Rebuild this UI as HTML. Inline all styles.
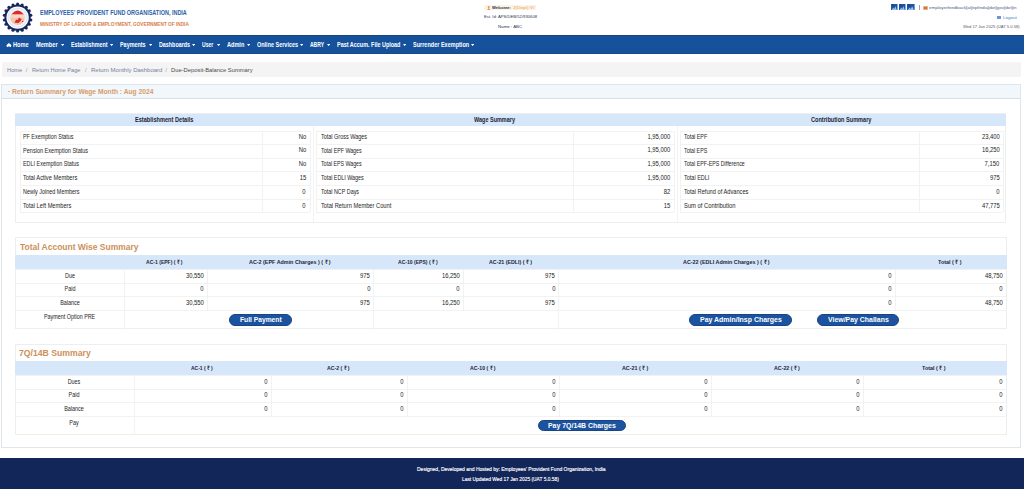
<!DOCTYPE html>
<html><head><meta charset="utf-8">
<style>
*{margin:0;padding:0;box-sizing:border-box}
html,body{width:1024px;height:489px;overflow:hidden;background:#fff;font-family:"Liberation Sans",sans-serif;color:#333}
.a{position:absolute;white-space:nowrap;line-height:1.15}
.s{}
</style></head>
<body>
<svg class="a" style="left:2.1px;top:1.9px" width="31.2" height="31.2" viewBox="0 0 31.2 31.2">
 <circle cx="15.6" cy="15.6" r="13.2" fill="#16275e"/>
 <g fill="#16275e"><circle cx="28.85" cy="17.94" r="1.55"/><circle cx="27.25" cy="22.32" r="1.55"/><circle cx="24.25" cy="25.90" r="1.55"/><circle cx="20.20" cy="28.24" r="1.55"/><circle cx="15.60" cy="29.05" r="1.55"/><circle cx="11.00" cy="28.24" r="1.55"/><circle cx="6.95" cy="25.90" r="1.55"/><circle cx="3.95" cy="22.33" r="1.55"/><circle cx="2.35" cy="17.94" r="1.55"/><circle cx="2.35" cy="13.26" r="1.55"/><circle cx="3.95" cy="8.87" r="1.55"/><circle cx="6.95" cy="5.30" r="1.55"/><circle cx="11.00" cy="2.96" r="1.55"/><circle cx="15.60" cy="2.15" r="1.55"/><circle cx="20.20" cy="2.96" r="1.55"/><circle cx="24.25" cy="5.30" r="1.55"/><circle cx="27.25" cy="8.88" r="1.55"/><circle cx="28.85" cy="13.26" r="1.55"/></g>
 <circle cx="15.6" cy="15.6" r="11.2" fill="#fff"/>
 <circle cx="15.6" cy="15.6" r="10.2" fill="#dce9f7"/>
 <circle cx="15.6" cy="15.6" r="8.6" fill="#f4f8fc"/>
 <circle cx="15.5" cy="15.8" r="7.3" fill="#f3c4ae"/>
 <path d="M8.6 12.6 h13.8 v3.2 h-13.8z" fill="#f6d6c6"/>
 <path d="M9.6 12.2 Q15.7 5 21.8 12.2 Z" fill="#e0262a"/>
 <path d="M12.6 20.8 L14 17.5 L15.8 18 L17 15.3 L18.2 16.5 L19.6 17.2 L18.6 19 L16.5 20.9 Z" fill="#e3262a"/>
 <circle cx="20.6" cy="19.4" r="0.7" fill="#e3262a"/>
</svg>
<div class="a" style="left:40px;top:9.45px;font-size:7.0px;color:#2d5ea8;transform:scaleX(0.780);transform-origin:0 0;font-weight:bold;">EMPLOYEES' PROVIDENT FUND ORGANISATION, INDIA</div>
<div class="a" style="left:40px;top:20.64px;font-size:5.6px;color:#d8804a;transform:scaleX(0.843);transform-origin:0 0;font-weight:bold;">MINISTRY OF LABOUR &amp; EMPLOYMENT, GOVERNMENT OF INDIA</div>
<div class="a" style="left:484.3px;top:5.2px;width:51.6px;height:5.0px;background:#fdf3e4;"></div>
<svg class="a" style="left:486.7px;top:5.6px" width="3.5" height="4.2" viewBox="0 0 4 6"><circle cx="2" cy="1.6" r="1.5" fill="#e39a50"/><path d="M0 6 Q0 3.2 2 3.2 Q4 3.2 4 6z" fill="#e39a50"/></svg>
<div class="a" style="left:491.7px;top:5.53px;font-size:4.2px;color:#2a3550;transform:scaleX(0.962);transform-origin:0 0;font-weight:bold;">Welcome:</div>
<div class="a" style="left:512.8px;top:5.53px;font-size:4.2px;color:#e9a158;transform:scaleX(1.127);transform-origin:0 0;">J(Dept) V/</div>
<div class="a" style="left:484.0px;top:14.84px;font-size:4.3px;color:#2a3550;transform:scaleX(0.974);transform-origin:0 0;">Est. Id: APS/DEB/52/930608</div>
<div class="a" style="left:498.4px;top:24.73px;font-size:4.2px;color:#2a3550;transform:scaleX(1.052);transform-origin:0 0;">Name : ABC</div>
<svg class="a" style="left:891.3px;top:4.1px" width="6.5" height="6.4" viewBox="0 0 10 10" preserveAspectRatio="none"><rect width="10" height="10" fill="#1f56a3"/><path d="M1 10 L3.2 5.5 L5 8 L6.8 3.5 L9.2 10Z" fill="#9fc0ea"/><rect x="1.5" y="1.2" width="2.5" height="2.5" fill="#15427f"/></svg>
<svg class="a" style="left:899.2px;top:4.1px" width="6.5" height="6.4" viewBox="0 0 10 10" preserveAspectRatio="none"><rect width="10" height="10" fill="#1f56a3"/><path d="M1 10 L3.2 5.5 L5 8 L6.8 3.5 L9.2 10Z" fill="#9fc0ea"/><rect x="1.5" y="1.2" width="2.5" height="2.5" fill="#15427f"/></svg>
<svg class="a" style="left:907.2px;top:4.1px" width="7.6" height="6.4" viewBox="0 0 10 10" preserveAspectRatio="none"><rect width="10" height="10" fill="#1f56a3"/><path d="M1 10 L3.2 5.5 L5 8 L6.8 3.5 L9.2 10Z" fill="#9fc0ea"/><rect x="1.5" y="1.2" width="2.5" height="2.5" fill="#15427f"/></svg>
<div class="a" style="left:919.3px;top:4.9px;width:0.7px;height:5px;background:#9aa6b8;"></div>
<div class="a" style="left:922.8px;top:5.8px;width:4.9px;height:4.3px;background:#eab286;"></div>
<div class="a" style="left:923.8px;top:6.6px;width:2.9px;height:2.4px;background:#d9703c;"></div>
<div class="a" style="left:929px;top:4.75px;font-size:4.4px;color:#4d6088;transform:scaleX(1.029);transform-origin:0 0;">employerfeedback[at]epfindia[dot]gov[dot]in</div>
<div class="a" style="left:997.4px;top:16.4px;width:3.4px;height:2.2px;background:#6b98d4;"></div>
<div class="a" style="left:1002.8px;top:14.7px;font-size:4.4px;color:#4a7fc0;transform:scaleX(1.026);transform-origin:0 0;">Logout</div>
<div class="a" style="left:962.8px;top:24.05px;font-size:4.4px;color:#555b66;transform:scaleX(0.940);transform-origin:0 0;">Wed 17 Jan 2025 (UAT 5.0.58)</div>
<div class="a" style="left:0px;top:35px;width:1024px;height:19.2px;background:#15529b;border-top:1px solid #1c4678;border-bottom:1px solid #1b4a82;box-sizing:border-box"></div>
<svg class="a" style="left:6.3px;top:42.6px" width="5.8" height="4.8" viewBox="0 0 6 5"><path d="M3 0 L6 2.6 L5.2 2.6 L5.2 5 L3.6 5 L3.6 3.4 L2.4 3.4 L2.4 5 L0.8 5 L0.8 2.6 L0 2.6Z" fill="#fff"/></svg>
<div class="a" style="left:13.3px;top:41.31px;font-size:6.5px;color:#fff;transform:scaleX(0.864);transform-origin:0 0;font-weight:bold;">Home</div>
<div class="a" style="left:35.9px;top:41.31px;font-size:6.5px;color:#fff;transform:scaleX(0.867);transform-origin:0 0;font-weight:bold;">Member</div>
<svg class="a" style="left:61.0px;top:43.7px" width="3.2" height="2.2" viewBox="0 0 3.2 2.2"><path d="M0 0 H3.2 L1.6 2.2Z" fill="#f4f7fb"/></svg>
<div class="a" style="left:70.8px;top:41.31px;font-size:6.5px;color:#fff;transform:scaleX(0.822);transform-origin:0 0;font-weight:bold;">Establishment</div>
<svg class="a" style="left:110.10000000000001px;top:43.7px" width="3.2" height="2.2" viewBox="0 0 3.2 2.2"><path d="M0 0 H3.2 L1.6 2.2Z" fill="#f4f7fb"/></svg>
<div class="a" style="left:120.3px;top:41.31px;font-size:6.5px;color:#fff;transform:scaleX(0.834);transform-origin:0 0;font-weight:bold;">Payments</div>
<svg class="a" style="left:149.1px;top:43.7px" width="3.2" height="2.2" viewBox="0 0 3.2 2.2"><path d="M0 0 H3.2 L1.6 2.2Z" fill="#f4f7fb"/></svg>
<div class="a" style="left:158.8px;top:41.31px;font-size:6.5px;color:#fff;transform:scaleX(0.825);transform-origin:0 0;font-weight:bold;">Dashboards</div>
<svg class="a" style="left:192.3px;top:43.7px" width="3.2" height="2.2" viewBox="0 0 3.2 2.2"><path d="M0 0 H3.2 L1.6 2.2Z" fill="#f4f7fb"/></svg>
<div class="a" style="left:202px;top:41.31px;font-size:6.5px;color:#fff;transform:scaleX(0.782);transform-origin:0 0;font-weight:bold;">User</div>
<svg class="a" style="left:216.8px;top:43.7px" width="3.2" height="2.2" viewBox="0 0 3.2 2.2"><path d="M0 0 H3.2 L1.6 2.2Z" fill="#f4f7fb"/></svg>
<div class="a" style="left:227.2px;top:41.31px;font-size:6.5px;color:#fff;transform:scaleX(0.856);transform-origin:0 0;font-weight:bold;">Admin</div>
<svg class="a" style="left:247.3px;top:43.7px" width="3.2" height="2.2" viewBox="0 0 3.2 2.2"><path d="M0 0 H3.2 L1.6 2.2Z" fill="#f4f7fb"/></svg>
<div class="a" style="left:256.6px;top:41.31px;font-size:6.5px;color:#fff;transform:scaleX(0.841);transform-origin:0 0;font-weight:bold;">Online Services</div>
<svg class="a" style="left:300.0px;top:43.7px" width="3.2" height="2.2" viewBox="0 0 3.2 2.2"><path d="M0 0 H3.2 L1.6 2.2Z" fill="#f4f7fb"/></svg>
<div class="a" style="left:310px;top:41.31px;font-size:6.5px;color:#fff;transform:scaleX(0.770);transform-origin:0 0;font-weight:bold;">ABRY</div>
<svg class="a" style="left:326.79999999999995px;top:43.7px" width="3.2" height="2.2" viewBox="0 0 3.2 2.2"><path d="M0 0 H3.2 L1.6 2.2Z" fill="#f4f7fb"/></svg>
<div class="a" style="left:336.6px;top:41.31px;font-size:6.5px;color:#fff;transform:scaleX(0.839);transform-origin:0 0;font-weight:bold;">Past Accum. File Upload</div>
<svg class="a" style="left:403.09999999999997px;top:43.7px" width="3.2" height="2.2" viewBox="0 0 3.2 2.2"><path d="M0 0 H3.2 L1.6 2.2Z" fill="#f4f7fb"/></svg>
<div class="a" style="left:412.8px;top:41.31px;font-size:6.5px;color:#fff;transform:scaleX(0.849);transform-origin:0 0;font-weight:bold;">Surrender Exemption</div>
<svg class="a" style="left:471.2px;top:43.7px" width="3.2" height="2.2" viewBox="0 0 3.2 2.2"><path d="M0 0 H3.2 L1.6 2.2Z" fill="#f4f7fb"/></svg>
<div class="a" style="left:1.5px;top:62.2px;width:1019px;height:14.8px;background:#f4f4f5;"></div>
<div class="a" style="left:7.1px;top:66.73px;font-size:5.5px;color:#74829a;transform:scaleX(1.043);transform-origin:0 0;">Home</div>
<div class="a" style="font-size:5.5px;top:66.73px;color:#9a9a9a;left:25.7px;transform-origin:0 0;">/</div>
<div class="a" style="left:32.1px;top:66.73px;font-size:5.5px;color:#74829a;transform:scaleX(1.030);transform-origin:0 0;">Return Home Page</div>
<div class="a" style="font-size:5.5px;top:66.73px;color:#9a9a9a;left:84.9px;transform-origin:0 0;">/</div>
<div class="a" style="left:90.6px;top:66.73px;font-size:5.5px;color:#74829a;transform:scaleX(1.086);transform-origin:0 0;">Return Monthly Dashboard</div>
<div class="a" style="font-size:5.5px;top:66.73px;color:#9a9a9a;left:165.5px;transform-origin:0 0;">/</div>
<div class="a" style="left:171.3px;top:66.73px;font-size:5.5px;color:#4a4a4a;transform:scaleX(1.056);transform-origin:0 0;">Due-Deposit-Balance Summary</div>
<div class="a" style="left:1.3px;top:84.3px;width:1019.4px;height:364px;background:#fff;border:1px solid #dfe5ec;box-sizing:border-box"></div>
<div class="a" style="left:2.3px;top:85.3px;width:1017.4px;height:13.6px;background:#f2f7fc;border-bottom:1px solid #d6dee8;box-sizing:border-box"></div>
<div class="a" style="left:7.9px;top:91.0px;width:1.8px;height:0.9px;background:#e6b48a;"></div>
<div class="a" style="left:11.7px;top:87.75px;font-size:7.0px;color:#d89c68;transform:scaleX(0.955);transform-origin:0 0;font-weight:bold;">Return Summary for Wage Month : Aug 2024</div>
<div class="a" style="left:15.2px;top:113.4px;width:991.2px;height:109.6px;background:#fff;border:1px solid #eeeeee;box-sizing:border-box"></div>
<div class="a" style="left:15.2px;top:113.6px;width:991.2px;height:12.2px;background:#d5e7f8;"></div>
<div class="a" style="left:312.6px;top:125.8px;width:1px;height:96.7px;background:#f3f3f3;"></div>
<div class="a" style="left:676.9px;top:125.8px;width:1px;height:96.7px;background:#f3f3f3;"></div>
<div class="a" style="left:19.5px;top:130.6px;width:290.3px;height:1px;background:#f2f2f2;"></div>
<div class="a" style="left:19.5px;top:144.4px;width:290.3px;height:1px;background:#f2f2f2;"></div>
<div class="a" style="left:19.5px;top:157.7px;width:290.3px;height:1px;background:#f2f2f2;"></div>
<div class="a" style="left:19.5px;top:171.1px;width:290.3px;height:1px;background:#f2f2f2;"></div>
<div class="a" style="left:19.5px;top:184.9px;width:290.3px;height:1px;background:#f2f2f2;"></div>
<div class="a" style="left:19.5px;top:198.7px;width:290.3px;height:1px;background:#f2f2f2;"></div>
<div class="a" style="left:19.5px;top:212.1px;width:290.3px;height:1px;background:#f2f2f2;"></div>
<div class="a" style="left:19.5px;top:130.6px;width:1px;height:81.5px;background:#f2f2f2;"></div>
<div class="a" style="left:262px;top:130.6px;width:1px;height:81.5px;background:#f2f2f2;"></div>
<div class="a" style="left:309.8px;top:130.6px;width:1px;height:81.5px;background:#f2f2f2;"></div>
<div class="a s" style="left:23.2px;top:132.8px;font-size:6.4px;color:#1e1e1e;transform:scaleX(0.842);transform-origin:0 0;">PF Exemption Status</div>
<div class="a s" style="font-size:6.5px;top:132.71px;color:#1e1e1e;right:717.9px;transform-origin:100% 0;transform:scaleX(0.905);">No</div>
<div class="a s" style="left:23.2px;top:146.58px;font-size:6.4px;color:#1e1e1e;transform:scaleX(0.869);transform-origin:0 0;">Pension Exemption Status</div>
<div class="a s" style="font-size:6.5px;top:146.49px;color:#1e1e1e;right:717.9px;transform-origin:100% 0;transform:scaleX(0.905);">No</div>
<div class="a s" style="left:23.2px;top:160.36px;font-size:6.4px;color:#1e1e1e;transform:scaleX(0.848);transform-origin:0 0;">EDLI Exemption Status</div>
<div class="a s" style="font-size:6.5px;top:160.27px;color:#1e1e1e;right:717.9px;transform-origin:100% 0;transform:scaleX(0.905);">No</div>
<div class="a s" style="left:23.2px;top:174.14px;font-size:6.4px;color:#1e1e1e;transform:scaleX(0.894);transform-origin:0 0;">Total Active Members</div>
<div class="a s" style="font-size:6.5px;top:174.05px;color:#1e1e1e;right:717.9px;transform-origin:100% 0;transform:scaleX(0.905);">15</div>
<div class="a s" style="left:23.2px;top:187.92px;font-size:6.4px;color:#1e1e1e;transform:scaleX(0.851);transform-origin:0 0;">Newly Joined Members</div>
<div class="a s" style="font-size:6.5px;top:187.83px;color:#1e1e1e;right:717.9px;transform-origin:100% 0;transform:scaleX(0.905);">0</div>
<div class="a s" style="left:23.2px;top:201.7px;font-size:6.4px;color:#1e1e1e;transform:scaleX(0.889);transform-origin:0 0;">Total Left Members</div>
<div class="a s" style="font-size:6.5px;top:201.61px;color:#1e1e1e;right:717.9px;transform-origin:100% 0;transform:scaleX(0.905);">0</div>
<div class="a" style="left:316px;top:130.6px;width:357.5px;height:1px;background:#f2f2f2;"></div>
<div class="a" style="left:316px;top:144.4px;width:357.5px;height:1px;background:#f2f2f2;"></div>
<div class="a" style="left:316px;top:157.7px;width:357.5px;height:1px;background:#f2f2f2;"></div>
<div class="a" style="left:316px;top:171.1px;width:357.5px;height:1px;background:#f2f2f2;"></div>
<div class="a" style="left:316px;top:184.9px;width:357.5px;height:1px;background:#f2f2f2;"></div>
<div class="a" style="left:316px;top:198.7px;width:357.5px;height:1px;background:#f2f2f2;"></div>
<div class="a" style="left:316px;top:212.1px;width:357.5px;height:1px;background:#f2f2f2;"></div>
<div class="a" style="left:316px;top:130.6px;width:1px;height:81.5px;background:#f2f2f2;"></div>
<div class="a" style="left:573.3px;top:130.6px;width:1px;height:81.5px;background:#f2f2f2;"></div>
<div class="a" style="left:673.5px;top:130.6px;width:1px;height:81.5px;background:#f2f2f2;"></div>
<div class="a s" style="left:320.8px;top:132.8px;font-size:6.4px;color:#1e1e1e;transform:scaleX(0.858);transform-origin:0 0;">Total Gross Wages</div>
<div class="a s" style="font-size:6.5px;top:132.71px;color:#1e1e1e;right:354.2px;transform-origin:100% 0;transform:scaleX(0.905);">1,95,000</div>
<div class="a s" style="left:320.8px;top:146.58px;font-size:6.4px;color:#1e1e1e;transform:scaleX(0.827);transform-origin:0 0;">Total EPF Wages</div>
<div class="a s" style="font-size:6.5px;top:146.49px;color:#1e1e1e;right:354.2px;transform-origin:100% 0;transform:scaleX(0.905);">1,95,000</div>
<div class="a s" style="left:320.8px;top:160.36px;font-size:6.4px;color:#1e1e1e;transform:scaleX(0.821);transform-origin:0 0;">Total EPS Wages</div>
<div class="a s" style="font-size:6.5px;top:160.27px;color:#1e1e1e;right:354.2px;transform-origin:100% 0;transform:scaleX(0.905);">1,95,000</div>
<div class="a s" style="left:320.8px;top:174.14px;font-size:6.4px;color:#1e1e1e;transform:scaleX(0.839);transform-origin:0 0;">Total EDLI Wages</div>
<div class="a s" style="font-size:6.5px;top:174.05px;color:#1e1e1e;right:354.2px;transform-origin:100% 0;transform:scaleX(0.905);">1,95,000</div>
<div class="a s" style="left:320.8px;top:187.92px;font-size:6.4px;color:#1e1e1e;transform:scaleX(0.846);transform-origin:0 0;">Total NCP Days</div>
<div class="a s" style="font-size:6.5px;top:187.83px;color:#1e1e1e;right:354.2px;transform-origin:100% 0;transform:scaleX(0.905);">82</div>
<div class="a s" style="left:320.8px;top:201.7px;font-size:6.4px;color:#1e1e1e;transform:scaleX(0.896);transform-origin:0 0;">Total Return Member Count</div>
<div class="a s" style="font-size:6.5px;top:201.61px;color:#1e1e1e;right:354.2px;transform-origin:100% 0;transform:scaleX(0.905);">15</div>
<div class="a" style="left:679.6px;top:130.6px;width:323.6px;height:1px;background:#f2f2f2;"></div>
<div class="a" style="left:679.6px;top:144.4px;width:323.6px;height:1px;background:#f2f2f2;"></div>
<div class="a" style="left:679.6px;top:157.7px;width:323.6px;height:1px;background:#f2f2f2;"></div>
<div class="a" style="left:679.6px;top:171.1px;width:323.6px;height:1px;background:#f2f2f2;"></div>
<div class="a" style="left:679.6px;top:184.9px;width:323.6px;height:1px;background:#f2f2f2;"></div>
<div class="a" style="left:679.6px;top:198.7px;width:323.6px;height:1px;background:#f2f2f2;"></div>
<div class="a" style="left:679.6px;top:212.1px;width:323.6px;height:1px;background:#f2f2f2;"></div>
<div class="a" style="left:679.6px;top:130.6px;width:1px;height:81.5px;background:#f2f2f2;"></div>
<div class="a" style="left:919.4px;top:130.6px;width:1px;height:81.5px;background:#f2f2f2;"></div>
<div class="a" style="left:1003.2px;top:130.6px;width:1px;height:81.5px;background:#f2f2f2;"></div>
<div class="a s" style="left:683.8px;top:132.8px;font-size:6.4px;color:#1e1e1e;transform:scaleX(0.836);transform-origin:0 0;">Total EPF</div>
<div class="a s" style="font-size:6.5px;top:132.71px;color:#1e1e1e;right:24.5px;transform-origin:100% 0;transform:scaleX(0.905);">23,400</div>
<div class="a s" style="left:683.8px;top:146.58px;font-size:6.4px;color:#1e1e1e;transform:scaleX(0.826);transform-origin:0 0;">Total EPS</div>
<div class="a s" style="font-size:6.5px;top:146.49px;color:#1e1e1e;right:24.5px;transform-origin:100% 0;transform:scaleX(0.905);">16,250</div>
<div class="a s" style="left:683.8px;top:160.36px;font-size:6.4px;color:#1e1e1e;transform:scaleX(0.828);transform-origin:0 0;">Total EPF-EPS Difference</div>
<div class="a s" style="font-size:6.5px;top:160.27px;color:#1e1e1e;right:24.5px;transform-origin:100% 0;transform:scaleX(0.905);">7,150</div>
<div class="a s" style="left:683.8px;top:174.14px;font-size:6.4px;color:#1e1e1e;transform:scaleX(0.860);transform-origin:0 0;">Total EDLI</div>
<div class="a s" style="font-size:6.5px;top:174.05px;color:#1e1e1e;right:24.5px;transform-origin:100% 0;transform:scaleX(0.905);">975</div>
<div class="a s" style="left:683.8px;top:187.92px;font-size:6.4px;color:#1e1e1e;transform:scaleX(0.889);transform-origin:0 0;">Total Refund of Advances</div>
<div class="a s" style="font-size:6.5px;top:187.83px;color:#1e1e1e;right:24.5px;transform-origin:100% 0;transform:scaleX(0.905);">0</div>
<div class="a s" style="left:683.8px;top:201.7px;font-size:6.4px;color:#1e1e1e;transform:scaleX(0.911);transform-origin:0 0;">Sum of Contribution</div>
<div class="a s" style="font-size:6.5px;top:201.61px;color:#1e1e1e;right:24.5px;transform-origin:100% 0;transform:scaleX(0.905);">47,775</div>
<div class="a" style="left:134.6px;top:115.69px;font-size:6.3px;color:#1d2538;transform:scaleX(0.892);transform-origin:0 0;font-weight:bold;">Establishment Details</div>
<div class="a" style="left:473.7px;top:115.69px;font-size:6.3px;color:#1d2538;transform:scaleX(0.872);transform-origin:0 0;font-weight:bold;">Wage Summary</div>
<div class="a" style="left:811px;top:115.69px;font-size:6.3px;color:#1d2538;transform:scaleX(0.886);transform-origin:0 0;font-weight:bold;">Contribution Summary</div>
<div class="a" style="left:15.2px;top:237.4px;width:991.4px;height:91.6px;background:#fff;border:1px solid #eeeeee;box-sizing:border-box"></div>
<div class="a" style="left:19.5px;top:242.31px;font-size:9.0px;color:#cc8f5a;transform:scaleX(0.940);transform-origin:0 0;font-weight:bold;">Total Account Wise Summary</div>
<div class="a" style="left:15.4px;top:255.3px;width:991.2px;height:14px;background:#d5e7f8;"></div>
<div class="a" style="left:146.4px;top:258.86px;font-size:5.9px;color:#1d2538;transform:scaleX(0.858);transform-origin:0 0;font-weight:bold;">AC-1 (EPF) ( &#8377; )</div>
<div class="a" style="left:249px;top:258.86px;font-size:5.9px;color:#1d2538;transform:scaleX(0.915);transform-origin:0 0;font-weight:bold;">AC-2 (EPF Admin Charges ) ( &#8377; )</div>
<div class="a" style="left:398.4px;top:258.86px;font-size:5.9px;color:#1d2538;transform:scaleX(0.860);transform-origin:0 0;font-weight:bold;">AC-10 (EPS) ( &#8377; )</div>
<div class="a" style="left:489px;top:258.86px;font-size:5.9px;color:#1d2538;transform:scaleX(0.898);transform-origin:0 0;font-weight:bold;">AC-21 (EDLI) ( &#8377; )</div>
<div class="a" style="left:683px;top:258.86px;font-size:5.9px;color:#1d2538;transform:scaleX(0.917);transform-origin:0 0;font-weight:bold;">AC-22 (EDLI Admin Charges ) ( &#8377; )</div>
<div class="a" style="left:938.4px;top:258.86px;font-size:5.9px;color:#1d2538;transform:scaleX(0.921);transform-origin:0 0;font-weight:bold;">Total ( &#8377; )</div>
<div class="a" style="left:15.4px;top:269.3px;width:991.2px;height:1px;background:#f2f2f2;"></div>
<div class="a" style="left:15.4px;top:282.6px;width:991.2px;height:1px;background:#f2f2f2;"></div>
<div class="a" style="left:15.4px;top:296.1px;width:991.2px;height:1px;background:#f2f2f2;"></div>
<div class="a" style="left:15.4px;top:310.0px;width:991.2px;height:1px;background:#f2f2f2;"></div>
<div class="a" style="left:123.6px;top:269.3px;width:1px;height:59.5px;background:#f2f2f2;"></div>
<div class="a" style="left:207.3px;top:269.3px;width:1px;height:40.7px;background:#f2f2f2;"></div>
<div class="a" style="left:373.4px;top:269.3px;width:1px;height:59.5px;background:#f2f2f2;"></div>
<div class="a" style="left:463.3px;top:269.3px;width:1px;height:40.7px;background:#f2f2f2;"></div>
<div class="a" style="left:558.3px;top:269.3px;width:1px;height:59.5px;background:#f2f2f2;"></div>
<div class="a" style="left:894.6px;top:269.3px;width:1px;height:40.7px;background:#f2f2f2;"></div>
<div class="a s" style="font-size:6.4px;top:272.0px;color:#1e1e1e;left:-80.5px;width:300px;text-align:center;transform-origin:50% 0;transform:scaleX(0.85);">Due</div>
<div class="a s" style="font-size:6.5px;top:271.91px;color:#1e1e1e;right:820.1px;transform-origin:100% 0;transform:scaleX(0.905);">30,550</div>
<div class="a s" style="font-size:6.5px;top:271.91px;color:#1e1e1e;right:653.8px;transform-origin:100% 0;transform:scaleX(0.905);">975</div>
<div class="a s" style="font-size:6.5px;top:271.91px;color:#1e1e1e;right:563.9px;transform-origin:100% 0;transform:scaleX(0.905);">16,250</div>
<div class="a s" style="font-size:6.5px;top:271.91px;color:#1e1e1e;right:468.8px;transform-origin:100% 0;transform:scaleX(0.905);">975</div>
<div class="a s" style="font-size:6.5px;top:271.91px;color:#1e1e1e;right:132.1px;transform-origin:100% 0;transform:scaleX(0.905);">0</div>
<div class="a s" style="font-size:6.5px;top:271.91px;color:#1e1e1e;right:21.1px;transform-origin:100% 0;transform:scaleX(0.905);">48,750</div>
<div class="a s" style="font-size:6.4px;top:285.3px;color:#1e1e1e;left:-80.5px;width:300px;text-align:center;transform-origin:50% 0;transform:scaleX(0.85);">Paid</div>
<div class="a s" style="font-size:6.5px;top:285.21px;color:#1e1e1e;right:820.1px;transform-origin:100% 0;transform:scaleX(0.905);">0</div>
<div class="a s" style="font-size:6.5px;top:285.21px;color:#1e1e1e;right:653.8px;transform-origin:100% 0;transform:scaleX(0.905);">0</div>
<div class="a s" style="font-size:6.5px;top:285.21px;color:#1e1e1e;right:563.9px;transform-origin:100% 0;transform:scaleX(0.905);">0</div>
<div class="a s" style="font-size:6.5px;top:285.21px;color:#1e1e1e;right:468.8px;transform-origin:100% 0;transform:scaleX(0.905);">0</div>
<div class="a s" style="font-size:6.5px;top:285.21px;color:#1e1e1e;right:132.1px;transform-origin:100% 0;transform:scaleX(0.905);">0</div>
<div class="a s" style="font-size:6.5px;top:285.21px;color:#1e1e1e;right:21.1px;transform-origin:100% 0;transform:scaleX(0.905);">0</div>
<div class="a s" style="font-size:6.4px;top:298.8px;color:#1e1e1e;left:-80.5px;width:300px;text-align:center;transform-origin:50% 0;transform:scaleX(0.85);">Balance</div>
<div class="a s" style="font-size:6.5px;top:298.71px;color:#1e1e1e;right:820.1px;transform-origin:100% 0;transform:scaleX(0.905);">30,550</div>
<div class="a s" style="font-size:6.5px;top:298.71px;color:#1e1e1e;right:653.8px;transform-origin:100% 0;transform:scaleX(0.905);">975</div>
<div class="a s" style="font-size:6.5px;top:298.71px;color:#1e1e1e;right:563.9px;transform-origin:100% 0;transform:scaleX(0.905);">16,250</div>
<div class="a s" style="font-size:6.5px;top:298.71px;color:#1e1e1e;right:468.8px;transform-origin:100% 0;transform:scaleX(0.905);">975</div>
<div class="a s" style="font-size:6.5px;top:298.71px;color:#1e1e1e;right:132.1px;transform-origin:100% 0;transform:scaleX(0.905);">0</div>
<div class="a s" style="font-size:6.5px;top:298.71px;color:#1e1e1e;right:21.1px;transform-origin:100% 0;transform:scaleX(0.905);">48,750</div>
<div class="a s" style="left:43.9px;top:312.85px;font-size:6.4px;color:#1e1e1e;transform:scaleX(0.843);transform-origin:0 0;">Payment Option PRE</div>
<div class="a" style="left:14.7px;top:344.1px;width:991.9px;height:91.3px;background:#fff;border:1px solid #eeeeee;box-sizing:border-box"></div>
<div class="a" style="left:19.0px;top:348.01px;font-size:9.0px;color:#cc8f5a;transform:scaleX(0.962);transform-origin:0 0;font-weight:bold;">7Q/14B Summary</div>
<div class="a" style="left:14.9px;top:361.2px;width:991.7px;height:14.1px;background:#d5e7f8;"></div>
<div class="a" style="left:190.5px;top:364.86px;font-size:5.9px;color:#1d2538;transform:scaleX(0.847);transform-origin:0 0;font-weight:bold;">AC-1 ( &#8377; )</div>
<div class="a" style="left:326.7px;top:364.86px;font-size:5.9px;color:#1d2538;transform:scaleX(0.880);transform-origin:0 0;font-weight:bold;">AC-2 ( &#8377; )</div>
<div class="a" style="left:470px;top:364.86px;font-size:5.9px;color:#1d2538;transform:scaleX(0.884);transform-origin:0 0;font-weight:bold;">AC-10 ( &#8377; )</div>
<div class="a" style="left:622px;top:364.86px;font-size:5.9px;color:#1d2538;transform:scaleX(0.907);transform-origin:0 0;font-weight:bold;">AC-21 ( &#8377; )</div>
<div class="a" style="left:773.8px;top:364.86px;font-size:5.9px;color:#1d2538;transform:scaleX(0.897);transform-origin:0 0;font-weight:bold;">AC-22 ( &#8377; )</div>
<div class="a" style="left:922.4px;top:364.86px;font-size:5.9px;color:#1d2538;transform:scaleX(0.921);transform-origin:0 0;font-weight:bold;">Total ( &#8377; )</div>
<div class="a" style="left:14.7px;top:375.4px;width:991.9px;height:1px;background:#f2f2f2;"></div>
<div class="a" style="left:14.7px;top:388.5px;width:991.9px;height:1px;background:#f2f2f2;"></div>
<div class="a" style="left:14.7px;top:402.3px;width:991.9px;height:1px;background:#f2f2f2;"></div>
<div class="a" style="left:14.7px;top:416.3px;width:991.9px;height:1px;background:#f2f2f2;"></div>
<div class="a" style="left:133.9px;top:375.4px;width:1px;height:60.0px;background:#f2f2f2;"></div>
<div class="a" style="left:271.0px;top:375.4px;width:1px;height:40.9px;background:#f2f2f2;"></div>
<div class="a" style="left:406.9px;top:375.4px;width:1px;height:40.9px;background:#f2f2f2;"></div>
<div class="a" style="left:559px;top:375.4px;width:1px;height:40.9px;background:#f2f2f2;"></div>
<div class="a" style="left:710.8px;top:375.4px;width:1px;height:40.9px;background:#f2f2f2;"></div>
<div class="a" style="left:863.3px;top:375.4px;width:1px;height:40.9px;background:#f2f2f2;"></div>
<div class="a s" style="font-size:6.4px;top:378.0px;color:#1e1e1e;left:-75.7px;width:300px;text-align:center;transform-origin:50% 0;transform:scaleX(0.85);">Dues</div>
<div class="a s" style="font-size:6.5px;top:377.91px;color:#1e1e1e;right:756.3px;transform-origin:100% 0;transform:scaleX(0.905);">0</div>
<div class="a s" style="font-size:6.5px;top:377.91px;color:#1e1e1e;right:620.4px;transform-origin:100% 0;transform:scaleX(0.905);">0</div>
<div class="a s" style="font-size:6.5px;top:377.91px;color:#1e1e1e;right:468.3px;transform-origin:100% 0;transform:scaleX(0.905);">0</div>
<div class="a s" style="font-size:6.5px;top:377.91px;color:#1e1e1e;right:316.5px;transform-origin:100% 0;transform:scaleX(0.905);">0</div>
<div class="a s" style="font-size:6.5px;top:377.91px;color:#1e1e1e;right:164.0px;transform-origin:100% 0;transform:scaleX(0.905);">0</div>
<div class="a s" style="font-size:6.5px;top:377.91px;color:#1e1e1e;right:21.1px;transform-origin:100% 0;transform:scaleX(0.905);">0</div>
<div class="a s" style="font-size:6.4px;top:391.1px;color:#1e1e1e;left:-75.7px;width:300px;text-align:center;transform-origin:50% 0;transform:scaleX(0.85);">Paid</div>
<div class="a s" style="font-size:6.5px;top:391.01px;color:#1e1e1e;right:756.3px;transform-origin:100% 0;transform:scaleX(0.905);">0</div>
<div class="a s" style="font-size:6.5px;top:391.01px;color:#1e1e1e;right:620.4px;transform-origin:100% 0;transform:scaleX(0.905);">0</div>
<div class="a s" style="font-size:6.5px;top:391.01px;color:#1e1e1e;right:468.3px;transform-origin:100% 0;transform:scaleX(0.905);">0</div>
<div class="a s" style="font-size:6.5px;top:391.01px;color:#1e1e1e;right:316.5px;transform-origin:100% 0;transform:scaleX(0.905);">0</div>
<div class="a s" style="font-size:6.5px;top:391.01px;color:#1e1e1e;right:164.0px;transform-origin:100% 0;transform:scaleX(0.905);">0</div>
<div class="a s" style="font-size:6.5px;top:391.01px;color:#1e1e1e;right:21.1px;transform-origin:100% 0;transform:scaleX(0.905);">0</div>
<div class="a s" style="font-size:6.4px;top:404.9px;color:#1e1e1e;left:-75.7px;width:300px;text-align:center;transform-origin:50% 0;transform:scaleX(0.85);">Balance</div>
<div class="a s" style="font-size:6.5px;top:404.81px;color:#1e1e1e;right:756.3px;transform-origin:100% 0;transform:scaleX(0.905);">0</div>
<div class="a s" style="font-size:6.5px;top:404.81px;color:#1e1e1e;right:620.4px;transform-origin:100% 0;transform:scaleX(0.905);">0</div>
<div class="a s" style="font-size:6.5px;top:404.81px;color:#1e1e1e;right:468.3px;transform-origin:100% 0;transform:scaleX(0.905);">0</div>
<div class="a s" style="font-size:6.5px;top:404.81px;color:#1e1e1e;right:316.5px;transform-origin:100% 0;transform:scaleX(0.905);">0</div>
<div class="a s" style="font-size:6.5px;top:404.81px;color:#1e1e1e;right:164.0px;transform-origin:100% 0;transform:scaleX(0.905);">0</div>
<div class="a s" style="font-size:6.5px;top:404.81px;color:#1e1e1e;right:21.1px;transform-origin:100% 0;transform:scaleX(0.905);">0</div>
<div class="a s" style="font-size:6.4px;top:418.9px;color:#1e1e1e;left:-75.7px;width:300px;text-align:center;transform-origin:50% 0;transform:scaleX(0.85);">Pay</div>
<div class="a" style="left:229px;top:314px;width:62.5px;height:11.7px;background:#1c53a0;border-radius:6px;border:0.6px solid #174482;box-sizing:border-box"></div>
<div class="a" style="left:239.7px;top:315.9px;font-size:7.0px;color:#fff;transform:scaleX(0.955);transform-origin:0 0;font-weight:bold;">Full Payment</div>
<div class="a" style="left:689.3px;top:314.2px;width:102.4px;height:11.5px;background:#1c53a0;border-radius:6px;border:0.6px solid #174482;box-sizing:border-box"></div>
<div class="a" style="left:699.6px;top:316.0px;font-size:7.0px;color:#fff;transform:scaleX(0.995);transform-origin:0 0;font-weight:bold;">Pay Admin/Insp Charges</div>
<div class="a" style="left:817.3px;top:314.2px;width:81.7px;height:11.5px;background:#1c53a0;border-radius:6px;border:0.6px solid #174482;box-sizing:border-box"></div>
<div class="a" style="left:827.6px;top:316.0px;font-size:7.0px;color:#fff;transform:scaleX(0.990);transform-origin:0 0;font-weight:bold;">View/Pay Challans</div>
<div class="a" style="left:537.8px;top:420px;width:87.8px;height:11.3px;background:#1c53a0;border-radius:6px;border:0.6px solid #174482;box-sizing:border-box"></div>
<div class="a" style="left:547.7px;top:421.7px;font-size:7.0px;color:#fff;transform:scaleX(0.989);transform-origin:0 0;font-weight:bold;">Pay 7Q/14B Charges</div>
<div class="a" style="left:0px;top:458px;width:1024px;height:31px;background:#122659;"></div>
<div class="a" style="left:416.6px;top:466.42px;font-size:5.3px;color:#fff;transform:scaleX(0.944);transform-origin:0 0;-webkit-text-stroke:0.15px #fff;">Designed, Developed and Hosted by: Employees' Provident Fund Organization, India</div>
<div class="a" style="left:462.3px;top:475.92px;font-size:5.3px;color:#fff;transform:scaleX(0.916);transform-origin:0 0;-webkit-text-stroke:0.15px #fff;">Last Updated Wed 17 Jan 2025 (UAT 5.0.58)</div>
</body></html>
